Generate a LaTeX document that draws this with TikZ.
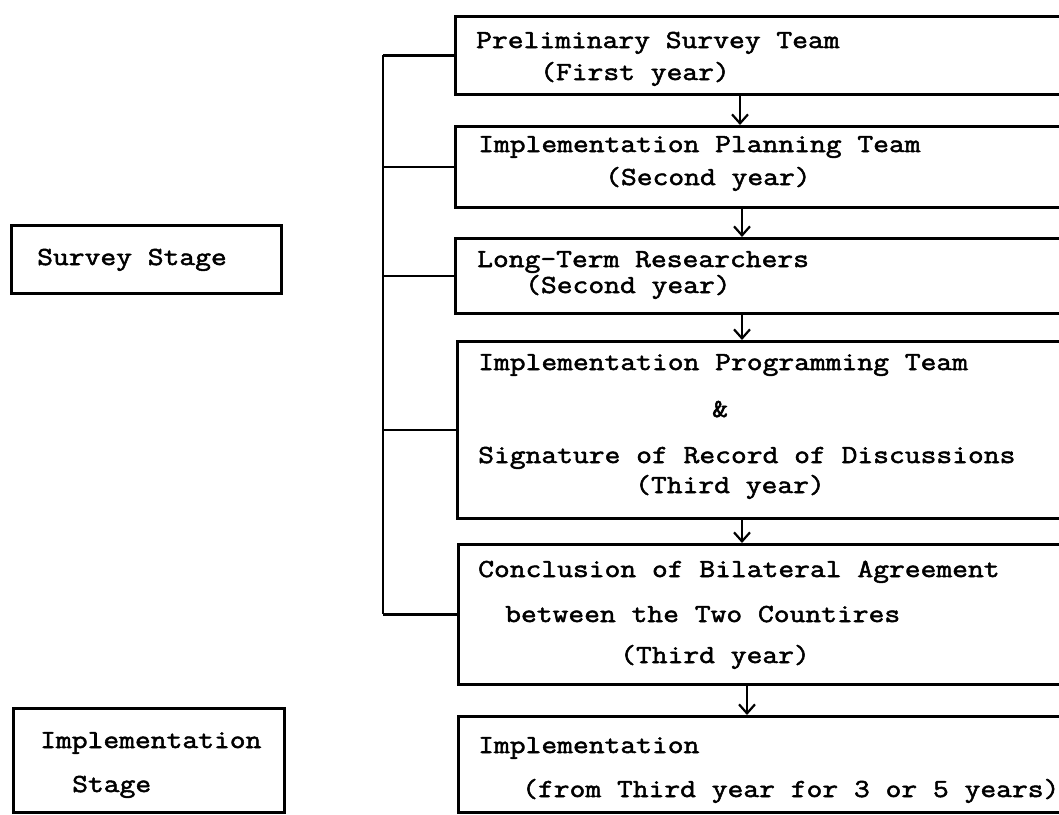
\documentclass[tikz,border=0pt]{standalone}
\usepackage{fontspec}
\newfontfamily\tw{Latin Modern Mono}[FakeStretch=1.18, FakeBold=2]
\usetikzlibrary{arrows.meta}
\begin{document}
\begin{tikzpicture}[x=1pt,y=-1pt,
  every node/.style={font=\tw\fontsize{26}{30}\selectfont},
  frame/.style={draw, line width=2.5pt, inner sep=0pt, anchor=north west},
  txt/.style={inner sep=0pt, anchor=base west},
  link/.style={line width=2.5pt},
  flow/.style={line width=2.2pt, -{Straight Barb[length=9pt,width=16pt,line width=2.2pt]}}]
\useasboundingbox (0,0) rectangle (1059,814);
\clip (0,0) rectangle (1059,814);
% flow boxes
\node[frame, minimum width=610, minimum height=78]  (b1) at (454,15)  {};
\node[frame, minimum width=610, minimum height=81]  (b2) at (454,125) {};
\node[frame, minimum width=610, minimum height=75]  (b3) at (454,237) {};
\node[frame, minimum width=610, minimum height=177] (b4) at (456,340) {};
\node[frame, minimum width=610, minimum height=140] (b5) at (457,543) {};
\node[frame, minimum width=610, minimum height=96]  (b6) at (457,715) {};
% stage boxes
\node[frame, minimum width=270, minimum height=68]  (s1) at (10,224) {};
\node[frame, minimum width=271, minimum height=104] (s2) at (12,707) {};
% texts
\node[txt] (t11) at (476,48)  {Preliminary Survey Team};
\node[txt] (t12) at (540,80)  {(First year)};
\node[txt] (t21) at (478,152) {Implementation Planning Team};
\node[txt] (t22) at (605,185) {(Second year)};
\node[txt] (t31) at (477,267) {Long-Term Researchers};
\node[txt] (t32) at (525,293) {(Second year)};
\node[txt] (t41) at (478,370) {Implementation Programming Team};
\node[txt] (t42) at (712,417) {\&};
\node[txt] (t43) at (478,463) {Signature of Record of Discussions};
\node[txt] (t44) at (635,493) {(Third year)};
\node[txt] (t51) at (478,577) {Conclusion of Bilateral Agreement};
\node[txt] (t52) at (505,622) {between the Two Countires};
\node[txt] (t53) at (620,663) {(Third year)};
\node[txt] (t61) at (478,753) {Implementation};
\node[txt] (t62) at (522,797) {(from Third year for 3 or 5 years)};
\node[txt] (u1) at (37,265) {Survey Stage};
\node[txt] (u2) at (40,748) {Implementation};
\node[txt] (u3) at (72,792) {Stage};
% arrows
\coordinate (a1) at (740,0);
\coordinate (a2) at (742,0);
\coordinate (a5) at (747,0);
\draw[flow] (b1.south -| a1) -- (b2.north -| a1);
\draw[flow] (b2.south -| a2) -- (b3.north -| a2);
\draw[flow] (b3.south -| a2) -- (b4.north -| a2);
\draw[flow] (b4.south -| a2) -- (b5.north -| a2);
\draw[flow] (b5.south -| a5) -- (b6.north -| a5);
% bracket
\coordinate (br) at (383,0);
\draw[link] (b1.west -| br) -- (b5.west -| br);
\draw[link] (b1.west -| br) -- (b1.west);
\draw[link] (b2.west -| br) -- (b2.west);
\draw[link] (b3.west -| br) -- (b3.west);
\draw[link] (b4.west -| br) -- (b4.west);
\draw[link] (b5.west -| br) -- (b5.west);
\end{tikzpicture}
\end{document}
